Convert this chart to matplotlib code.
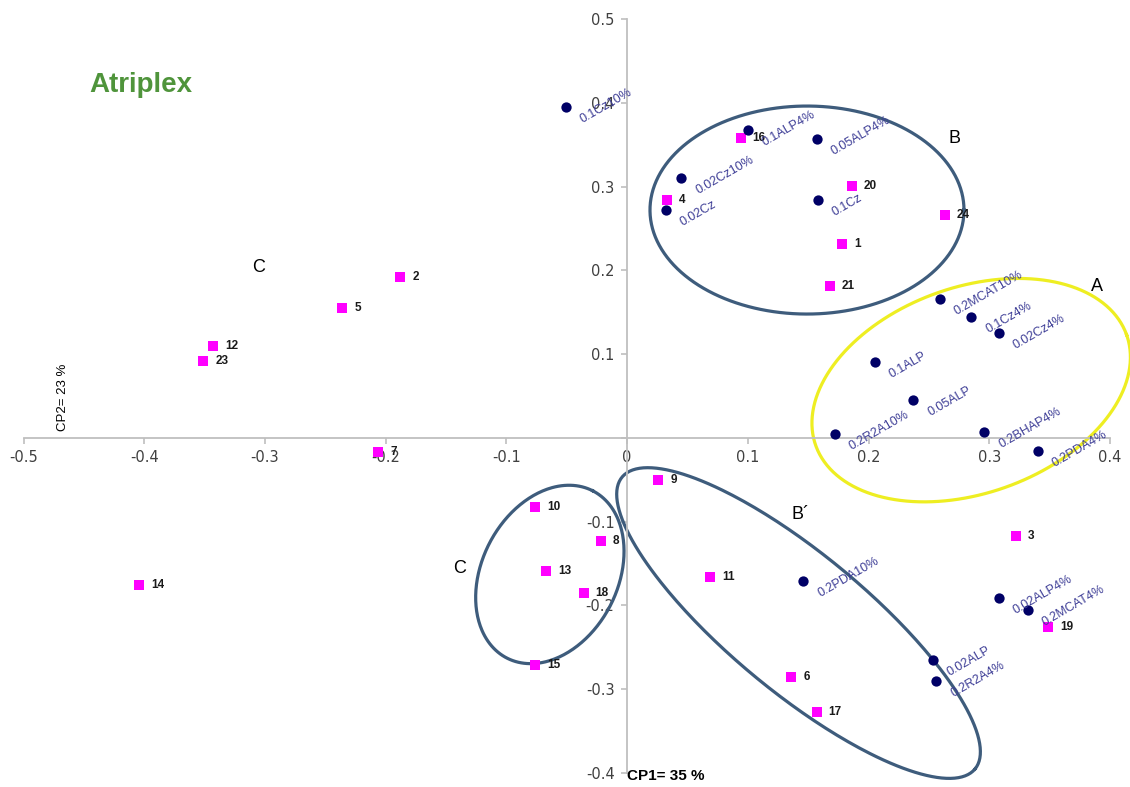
import matplotlib
matplotlib.use('Agg')
import matplotlib.pyplot as plt
import numpy as np

plt.rcParams['axes.unicode_minus'] = False

### Sample points (pink squares)
sample_ids = ['1', '2', '3', '4', '5', '6', '7', '8', '9', '10', '11', '12',
              '13', '14', '15', '16', '17', '18', '19', '20', '21', '23', '24']
sample_cp1 = [0.178, -0.188, 0.322, 0.033, -0.236, 0.136, -0.206, -0.022, 0.026, -0.076, 0.069, -0.343,
              -0.067, -0.404, -0.076, 0.094, 0.157, -0.036, 0.349, 0.186, 0.168, -0.351, 0.263]
sample_cp2 = [0.232, 0.192, -0.117, 0.284, 0.155, -0.286, -0.017, -0.123, -0.050, -0.082, -0.166, 0.110,
              -0.159, -0.175, -0.271, 0.358, -0.327, -0.185, -0.226, 0.301, 0.181, 0.092, 0.266]

### Treatment points (navy dots)
treat_names = ['0.1Cz10%', '0.1ALP4%', '0.05ALP4%', '0.02Cz10%', '0.02Cz', '0.1Cz',
               '0.2MCAT10%', '0.1Cz4%', '0.02Cz4%', '0.1ALP', '0.05ALP', '0.2R2A10%',
               '0.2BHAP4%', '0.2PDA4%', '0.2PDA10%', '0.02ALP4%', '0.2MCAT4%', '0.02ALP', '0.2R2A4%']
treat_cp1 = [-0.051, 0.100, 0.157, 0.045, 0.032, 0.158,
             0.259, 0.285, 0.308, 0.205, 0.237, 0.172,
             0.296, 0.340, 0.146, 0.308, 0.332, 0.253, 0.256]
treat_cp2 = [0.395, 0.368, 0.357, 0.310, 0.272, 0.284,
             0.166, 0.144, 0.125, 0.091, 0.045, 0.005,
             0.007, -0.016, -0.171, -0.191, -0.205, -0.265, -0.290]

### Group letters
group_names = ['A', 'B', 'B\u00b4', 'C', 'C']
group_x = [0.389, 0.271, 0.144, -0.305, -0.139]
group_y = [0.181, 0.357, -0.091, 0.204, -0.156]

### Group ellipses: center (data), semi axes (px), angle (deg), colour
ell_cx = [0.285, 0.149, 0.142, -0.064]
ell_cy = [0.057, 0.272, -0.221, -0.163]
ell_a = [165, 157, 229, 94]
ell_b = [103, 104, 69, 68]
ell_ang = [19.6, 0.0, -39.6, 62.8]
ell_col = ['#eeee22', '#3e5c7c', '#3e5c7c', '#3e5c7c']

xticks = [-0.5, -0.4, -0.3, -0.2, -0.1, 0, 0.1, 0.2, 0.3, 0.4]
yticks = [-0.4, -0.3, -0.2, -0.1, 0, 0.1, 0.2, 0.3, 0.4, 0.5]

fig = plt.figure(figsize=(11.3, 7.87), dpi=100)
ax = fig.add_axes([0.0208, 0.0178, 0.9615, 0.958])
ax.set_xlim(-0.5, 0.4)
ax.set_ylim(-0.4, 0.5)

### Axes through the origin, Excel style
for s in ['top', 'right']:
    ax.spines[s].set_visible(False)
ax.spines['left'].set_position(('data', 0))
ax.spines['bottom'].set_position(('data', 0))
for s in ['left', 'bottom']:
    ax.spines[s].set_color('#bfbfbf')
    ax.spines[s].set_linewidth(1.3)

ax.set_xticks(xticks)
ax.set_xticklabels(['%g' % v for v in xticks])
ax.set_yticks(yticks)
ax.set_yticklabels(['' if v == 0 else '%g' % v for v in yticks])
ax.tick_params(axis='both', direction='out', color='#bfbfbf', labelcolor='#404040',
               labelsize=10.5, length=4, width=1.2)
ax.tick_params(axis='x', pad=5)
ax.tick_params(axis='y', pad=5)

### Ellipses drawn in pixel space, converted back to data
fig.canvas.draw()
t = np.linspace(0, 2 * np.pi, 300)
for cx, cy, a, b, ang, col in zip(ell_cx, ell_cy, ell_a, ell_b, ell_ang, ell_col):
    th = np.radians(ang)
    c = ax.transData.transform((cx, cy))
    px = c[0] + a * np.cos(t) * np.cos(th) - b * np.sin(t) * np.sin(th)
    py = c[1] + a * np.cos(t) * np.sin(th) + b * np.sin(t) * np.cos(th)
    pts = ax.transData.inverted().transform(np.column_stack([px, py]))
    ax.plot(pts[:, 0], pts[:, 1], color=col, lw=2.3, zorder=2, clip_on=False)

### Points
ax.scatter(sample_cp1, sample_cp2, marker='s', s=62, color='#ff00ff', zorder=3, linewidths=0)
ax.scatter(treat_cp1, treat_cp2, marker='o', s=55, color='#000066', zorder=3, linewidths=0)

for name, x, y in zip(sample_ids, sample_cp1, sample_cp2):
    ax.annotate(name, (x, y), xytext=(12, 0), textcoords='offset pixels',
                ha='left', va='center', fontsize=8.5, fontweight='bold',
                family='Liberation Sans', color='#1a1a1a', zorder=4)

for name, x, y in zip(treat_names, treat_cp1, treat_cp2):
    ax.annotate(name, (x, y), xytext=(17, -16), textcoords='offset pixels',
                ha='left', va='baseline', rotation=30, rotation_mode='anchor',
                fontsize=9, family='Liberation Sans', color='#3d3d96', zorder=4)

for name, x, y in zip(group_names, group_x, group_y):
    ax.text(x, y, name, ha='center', va='center', fontsize=13,
            family='Liberation Sans', color='black')

### Title and axis names
ax.text(-0.403, 0.421, 'Atriplex', ha='center', va='center', fontsize=20,
        fontweight='bold', family='Liberation Sans', color='#4f943b')
ax.text(0.0, -0.403, 'CP1= 35 %', ha='left', va='center', fontsize=11,
        fontweight='bold', family='Liberation Sans', color='black')
ax.text(-0.467, 0.049, 'CP2= 23 %', ha='center', va='center', fontsize=9.5,
        rotation=90, family='Liberation Sans', color='black')

fig.savefig('out.png', dpi=100)
